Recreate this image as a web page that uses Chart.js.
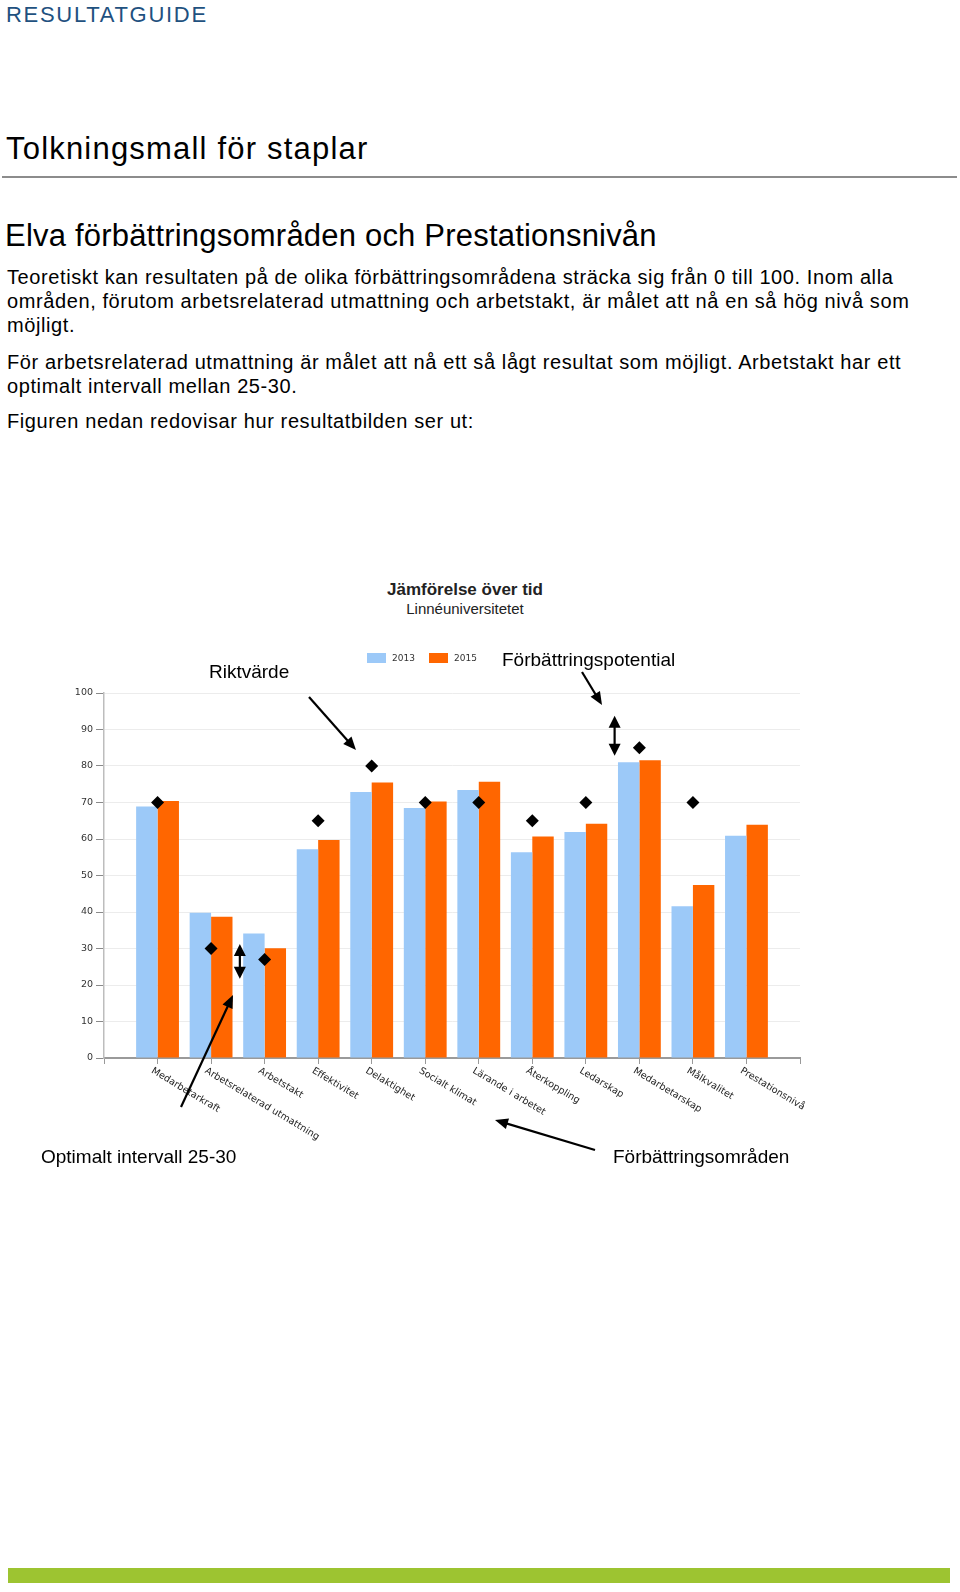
<!DOCTYPE html>
<html>
<head>
<meta charset="utf-8">
<script src="https://cdn.jsdelivr.net/npm/chart.js@4.4.0/dist/chart.umd.min.js"></script>
<style>
html,body{margin:0;padding:0;background:#fff;}
body{width:960px;height:1592px;position:relative;overflow:hidden;font-family:"Liberation Sans",Arial,sans-serif;color:#000;}
.t{position:absolute;white-space:nowrap;}
.p{font-size:20px;line-height:24px;left:7px;letter-spacing:0.6px;}
.h{font-size:31px;line-height:36px;}
.ann{font-size:19px;line-height:22px;}
.lg{position:absolute;font-family:"DejaVu Sans",Verdana,sans-serif;font-size:9px;line-height:12px;color:#333;}
.box{position:absolute;width:19px;height:10px;}
#wrap{position:absolute;left:0;top:640px;width:960px;height:540px;}
</style>
</head>
<body>
<div class="t" style="left:6px;top:2px;font-size:22px;line-height:26px;letter-spacing:1.7px;color:#1f5180">RESULTATGUIDE</div>
<div class="t h" style="left:6px;top:131px;letter-spacing:1.2px;">Tolkningsmall för staplar</div>
<div style="position:absolute;left:2px;top:176px;width:955px;height:2px;background:#8c8c8c"></div>
<div class="t h" style="left:5px;top:218px;letter-spacing:0.2px;">Elva förbättringsområden och Prestationsnivån</div>
<div class="t p" style="top:265.4px">Teoretiskt kan resultaten på de olika förbättringsområdena sträcka sig från 0 till 100. Inom alla</div>
<div class="t p" style="top:289.4px">områden, förutom arbetsrelaterad utmattning och arbetstakt, är målet att nå en så hög nivå som</div>
<div class="t p" style="top:313.4px">möjligt.</div>
<div class="t p" style="top:350.4px">För arbetsrelaterad utmattning är målet att nå ett så lågt resultat som möjligt. Arbetstakt har ett</div>
<div class="t p" style="top:374.4px">optimalt intervall mellan 25-30.</div>
<div class="t p" style="top:409.4px">Figuren nedan redovisar hur resultatbilden ser ut:</div>

<div id="wrap"><canvas id="c" width="960" height="540"></canvas></div>

<div class="t" id="ctitle" style="left:465px;top:579.5px;transform:translateX(-50%);font-size:17px;line-height:20px;font-weight:bold;color:#222"></div>
<div class="t" id="csub" style="left:465px;top:600px;transform:translateX(-50%);font-size:15px;line-height:18px;color:#222"></div>
<div id="legend"></div>

<div class="t ann" style="left:209px;top:661px">Riktvärde</div>
<div class="t ann" style="left:502px;top:649px">Förbättringspotential</div>
<div class="t ann" style="left:41px;top:1146px">Optimalt intervall 25-30</div>
<div class="t ann" style="left:613px;top:1146px">Förbättringsområden</div>

<div style="position:absolute;left:8px;top:1568px;width:942px;height:15px;background:#9dc431"></div>

<script>
// ---- data ----
const chartTitle = 'Jämförelse över tid';
const chartSubtitle = 'Linnéuniversitetet';
const categories = ['Medarbetarkraft','Arbetsrelaterad utmattning','Arbetstakt','Effektivitet','Delaktighet','Socialt klimat','Lärande i arbetet','Återkoppling','Ledarskap','Medarbetarskap','Målkvalitet','Prestationsnivå'];
const seriesNames = ['2013','2015'];
const values2013 = [68.9, 39.8, 34.1, 57.2, 72.9, 68.5, 73.4, 56.4, 61.9, 81.0, 41.6, 60.9];
const values2015 = [70.4, 38.7, 30.1, 59.7, 75.5, 70.3, 75.7, 60.7, 64.2, 81.6, 47.4, 63.9];
const targetValues = [70, 30, 27, 65, 80, 70, 70, 65, 70, 85, 70, null];
const yTicks = [0,10,20,30,40,50,60,70,80,90,100];
const seriesColors = ['#9cc9f8','#ff6600'];

// interval double-arrows: [category index a, category index b, top value, bottom value]
const intervalArrows = [[1, 2, 31.2, 21.7], [8, 9, 93.8, 82.8]];
// pointing annotation arrows in page coordinates [x1,y1,x2,y2]
const pointerArrows = [[309,697,356,750],[582,672,602,705],[181,1107,233,995],[595,1150,495,1120]];

document.getElementById('ctitle').textContent = chartTitle;
document.getElementById('csub').textContent = chartSubtitle;
const lg = document.getElementById('legend');
const lgX = [367, 429];
seriesNames.forEach((n,i)=>{
  const b = document.createElement('div'); b.className='box';
  b.style.left = lgX[i]+'px'; b.style.top='653px'; b.style.background=seriesColors[i];
  lg.appendChild(b);
  const t = document.createElement('div'); t.className='lg';
  t.style.left=(lgX[i]+25)+'px'; t.style.top='651.5px'; t.textContent=n;
  lg.appendChild(t);
});

const pad = a => [null, ...a, null];
const labels = ['', ...categories, ''];
const canvasTop = 640;

function head(ctx, x1,y1,x2,y2,len,w){
  const a = Math.atan2(y2-y1,x2-x1);
  const bx = x2-len*Math.cos(a), by = y2-len*Math.sin(a);
  ctx.beginPath();
  ctx.moveTo(x2,y2);
  ctx.lineTo(bx + w/2*Math.sin(a), by - w/2*Math.cos(a));
  ctx.lineTo(bx - w/2*Math.sin(a), by + w/2*Math.cos(a));
  ctx.closePath(); ctx.fill();
}
function arrow(ctx,x1,y1,x2,y2,len,w){
  const a = Math.atan2(y2-y1,x2-x1);
  ctx.beginPath(); ctx.moveTo(x1,y1);
  ctx.lineTo(x2-len*0.7*Math.cos(a), y2-len*0.7*Math.sin(a)); ctx.stroke();
  head(ctx,x1,y1,x2,y2,len,w);
}

const overlay = {
  id:'overlay',
  afterDraw(chart){
    const ctx = chart.ctx, xs = chart.scales.x, ys = chart.scales.y;
    ctx.save();
    ctx.font = '9.6px "DejaVu Sans", Verdana, sans-serif';
    ctx.fillStyle = '#222'; ctx.textAlign='left'; ctx.textBaseline='top';
    categories.forEach((c,i)=>{
      const px = xs.getPixelForValue(i+1);
      ctx.save(); ctx.translate(px-3, ys.bottom+8); ctx.rotate(31*Math.PI/180);
      ctx.fillText(c,0,0); ctx.restore();
    });
    ctx.restore();
    ctx.save();
    ctx.strokeStyle='#000'; ctx.fillStyle='#000'; ctx.lineWidth=2.2;
    intervalArrows.forEach(([a,b,top,bot])=>{
      const x = (xs.getPixelForValue(a+1)+xs.getPixelForValue(b+1))/2 + 2;
      const yt = ys.getPixelForValue(top), yb = ys.getPixelForValue(bot);
      ctx.beginPath(); ctx.moveTo(x, yt+8); ctx.lineTo(x, yb-8); ctx.stroke();
      head(ctx, x, yb, x, yt, 12, 12);
      head(ctx, x, yt, x, yb, 12, 12);
    });
    pointerArrows.forEach(([x1,y1,x2,y2])=>{
      arrow(ctx, x1, y1-canvasTop, x2, y2-canvasTop, 13, 11);
    });
    ctx.restore();
  }
};

new Chart(document.getElementById('c'), {
  type:'bar',
  data:{
    labels: labels,
    datasets:[
      {label:seriesNames[0], data:pad(values2013), backgroundColor:seriesColors[0], borderWidth:0, order:2},
      {label:seriesNames[1], data:pad(values2015), backgroundColor:seriesColors[1], borderWidth:0, order:2},
      {type:'line', label:'Riktvärde', data:pad(targetValues), showLine:false, pointStyle:'rectRot',
       pointRadius:6.5, pointHoverRadius:6.5, pointBackgroundColor:'#000', pointBorderColor:'#000', pointBorderWidth:0, order:0}
    ]
  },
  options:{
    responsive:false, animation:false, devicePixelRatio:1,
    layout:{padding:{left:0,right:160,top:53,bottom:0}},
    datasets:{bar:{categoryPercentage:0.8, barPercentage:1.0}},
    plugins:{legend:{display:false}, title:{display:false}, tooltip:{enabled:false}},
    scales:{
      x:{
        type:'category', offset:false,
        grid:{display:true, offset:false, drawOnChartArea:false, drawTicks:true, tickLength:6, tickColor:'#999'},
        border:{display:true, color:'#9a9a9a', width:2},
        ticks:{display:false, autoSkip:false},
        afterFit(s){ s.height = 122; }
      },
      y:{
        min:0, max:100,
        afterBuildTicks(s){ s.ticks = yTicks.map(v=>({value:v})); },
        grid:{color:'#ececec', tickColor:'#8a8a8a', tickLength:8, lineWidth:1},
        border:{display:true, color:'#bdbdbd', width:1.5},
        ticks:{font:{family:'"DejaVu Sans", Verdana, sans-serif', size:9.5}, color:'#333', padding:3},
        afterFit(s){ s.width = 104; }
      }
    }
  },
  plugins:[overlay]
});
</script>
</body>
</html>
